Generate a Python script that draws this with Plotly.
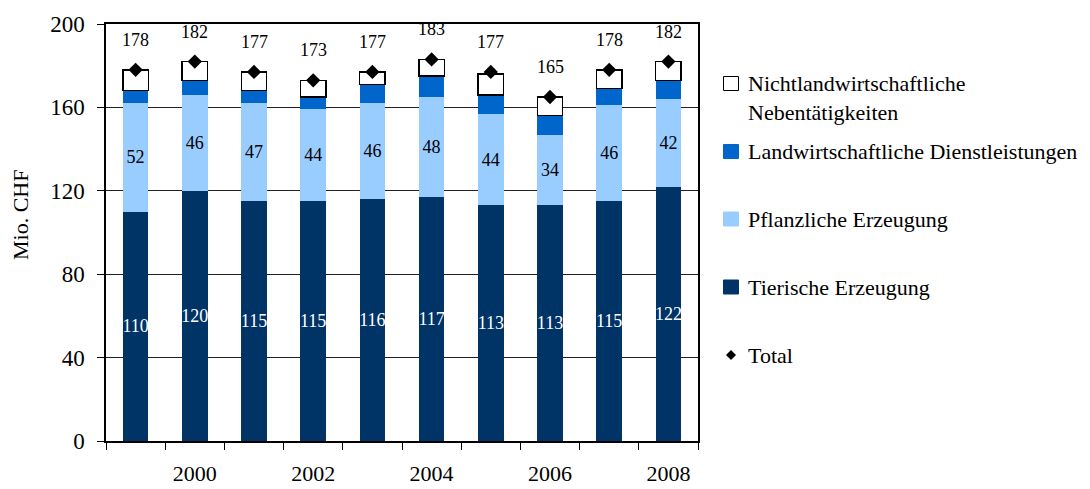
import plotly.graph_objects as go

years = [1999, 2000, 2001, 2002, 2003, 2004, 2005, 2006, 2007, 2008]
tierische = [110, 120, 115, 115, 116, 117, 113, 113, 115, 122]
pflanzliche = [52, 46, 47, 44, 46, 48, 44, 34, 46, 42]
dienstleistungen = [6, 7, 6, 6, 9, 10, 9, 9, 8, 9]
nebentaetigkeiten = [10, 9, 9, 8, 6, 8, 10, 9, 9, 9]
total = [178, 182, 177, 173, 177, 183, 177, 165, 178, 182]
tick_labels = ["", "2000", "", "2002", "", "2004", "", "2006", "", "2008"]
series_names = ["Nichtlandwirtschaftliche<br>Nebentätigkeiten",
                "Landwirtschaftliche Dienstleistungen",
                "Pflanzliche Erzeugung",
                "Tierische Erzeugung",
                "Total"]

FONT = "Liberation Serif, Times New Roman, serif"
C_DARK = "#003366"
C_MID = "#0066CC"
C_LIGHT = "#99CCFF"

cats = [str(y) for y in years]

# target plot-area positions in the screenshot
L, R, T, B = 106, 698, 24, 441
W, H = 1090, 489
OFF = 8  # default page body margin

def px2x(px):
    return (px - L) / (R - L)

def py2y(py):
    return (B - py) / (B - T)

fig = go.Figure()
fig.add_trace(go.Bar(x=cats, y=tierische, marker=dict(color=C_DARK, line=dict(width=0)),
                     text=[str(v) for v in tierische], textposition="inside",
                     insidetextanchor="middle", textangle=0, constraintext="none",
                     textfont=dict(family=FONT, size=18, color="white"), width=0.43,
                     showlegend=False))
fig.add_trace(go.Bar(x=cats, y=pflanzliche, marker=dict(color=C_LIGHT, line=dict(width=0)),
                     text=[str(v) for v in pflanzliche], textposition="inside",
                     insidetextanchor="middle", textangle=0, constraintext="none",
                     textfont=dict(family=FONT, size=18, color="black"), width=0.43,
                     showlegend=False))
fig.add_trace(go.Bar(x=cats, y=dienstleistungen, marker=dict(color=C_MID, line=dict(width=0)),
                     width=0.43, showlegend=False))
fig.add_trace(go.Bar(x=cats, y=nebentaetigkeiten, marker=dict(color="white", line=dict(width=1.5, color="black")),
                     width=0.43, showlegend=False))
fig.add_trace(go.Scatter(x=cats, y=total, mode="markers",
                         marker=dict(symbol="diamond", size=11, color="black"),
                         showlegend=False))

annotations = []
for i, t in enumerate(total):
    annotations.append(dict(x=i, y=t, xref="x", yref="y", text=str(t), showarrow=False,
                            yshift=30, yanchor="middle",
                            font=dict(family=FONT, size=18, color="black")))

# y axis title
annotations.append(dict(x=px2x(20), y=py2y(215), xref="paper", yref="paper", text="Mio. CHF",
                        textangle=-90, showarrow=False, xanchor="center", yanchor="middle",
                        font=dict(family=FONT, size=22, color="black")))

# manual legend
shapes = []
legend_rows = [
    (83.5, 97.5, "white", "square", series_names[0]),
    (151.5, 151.5, C_MID, "square", series_names[1]),
    (219, 219, C_LIGHT, "square", series_names[2]),
    (287, 287, C_DARK, "square", series_names[3]),
    (355, 355, "black", "diamond", series_names[4]),
]
sx = px2x(731)
for sy_px, ty_px, col, kind, name in legend_rows:
    if kind == "square":
        shapes.append(dict(type="rect", xref="paper", yref="paper",
                           xsizemode="pixel", ysizemode="pixel",
                           xanchor=sx, yanchor=py2y(sy_px),
                           x0=-7.5, x1=7.5, y0=-7, y1=7,
                           fillcolor=col,
                           line=dict(color="black" if col == "white" else col, width=1)))
    else:
        shapes.append(dict(type="path", xref="paper", yref="paper",
                           xsizemode="pixel", ysizemode="pixel",
                           xanchor=sx, yanchor=py2y(sy_px),
                           path="M 0 5 L 5 0 L 0 -5 L -5 0 Z",
                           fillcolor="black", line=dict(color="black", width=0)))
    annotations.append(dict(x=px2x(746), y=py2y(ty_px), xref="paper", yref="paper",
                            text=name, showarrow=False, xanchor="left", yanchor="middle",
                            align="left",
                            font=dict(family=FONT, size=22, color="black")))

fig.update_layout(
    barmode="stack",
    width=W - OFF, height=H - OFF,
    margin=dict(l=L - OFF, r=W - R, t=T - OFF, b=H - B, pad=0, autoexpand=False),
    paper_bgcolor="white", plot_bgcolor="white",
    font=dict(family=FONT, size=22, color="black"),
    annotations=annotations,
    shapes=shapes,
    showlegend=False,
)
fig.update_xaxes(type="category", tickmode="array", tickvals=cats, ticktext=tick_labels,
                 tickson="boundaries", ticks="outside", ticklen=7, tickcolor="black",
                 showline=True, linecolor="black", linewidth=1.5, mirror=True,
                 showgrid=False, tickfont=dict(family=FONT, size=22, color="black"),
                 ticklabelstandoff=12, range=[-0.5, 9.5], automargin=False)
fig.update_yaxes(range=[0, 200], tickmode="array", tickvals=[0, 40, 80, 120, 160, 200],
                 ticks="outside", ticklen=7, tickcolor="black",
                 showline=True, linecolor="black", linewidth=1.5, mirror=True,
                 showgrid=True, gridcolor="#222222", gridwidth=1, zeroline=False,
                 tickfont=dict(family=FONT, size=23, color="black"),
                 ticklabelstandoff=8, automargin=False)

fig.write_html("out.html")
